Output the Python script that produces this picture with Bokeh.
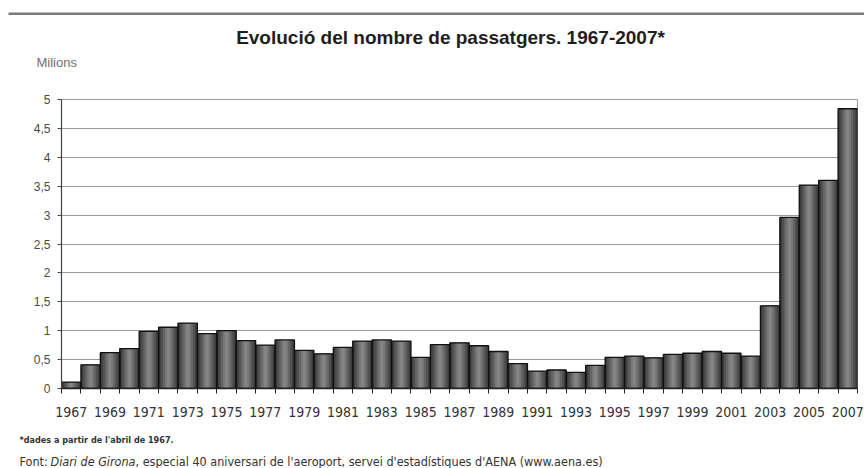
from bokeh.plotting import figure
from bokeh.layouts import column
from bokeh.models import (Range1d, FixedTicker, Label, BoxAnnotation, ColumnDataSource)
from bokeh.embed import file_html
from bokeh.resources import INLINE

# ---------------- data ----------------
years = list(range(1967, 2008))
passengers = [0.11, 0.41, 0.62, 0.69, 0.99, 1.06, 1.13, 0.95, 1.00, 0.83,
              0.75, 0.84, 0.66, 0.60, 0.71, 0.82, 0.84, 0.82, 0.54, 0.76,
              0.79, 0.74, 0.64, 0.43, 0.30, 0.32, 0.28, 0.40, 0.54, 0.56,
              0.53, 0.59, 0.61, 0.64, 0.61, 0.56, 1.43, 2.96, 3.52, 3.60,
              4.84]
x_tick_years = list(range(1967, 2008, 2))
x_tick_labels = [str(y) for y in x_tick_years]
y_ticks = [0, 0.5, 1, 1.5, 2, 2.5, 3, 3.5, 4, 4.5, 5]
y_tick_labels = ["0", "0,5", "1", "1,5", "2", "2,5", "3", "3,5", "4", "4,5", "5"]

title_text = "Evolució del nombre de passatgers. 1967-2007*"
unit_text = "Milions"
note_text = "*dades a partir de l'abril de 1967."
source_a = "Font:"
source_b = "Diari de Girona"
source_c = ", especial 40 aniversari de l'aeroport, servei d'estadístiques d'AENA (www.aena.es)"

# ---------------- layout ----------------
W, H = 864, 468
HEAD_H = 91          # header strip (title, unit)
FOOT_H = 44          # footer strip (notes)
MAIN_H = H - HEAD_H - FOOT_H
FL, FR = 61, 857     # chart frame left / right in px
FRAME_TOP = 8        # inside main figure
FRAME_H = 289

NARROW = "'Liberation Sans Narrow', 'DejaVu Sans Condensed', 'Roboto Condensed', sans-serif"
SANS = "Liberation Sans"


def strip(height):
    f = figure(width=W, height=height, output_backend="svg", toolbar_location=None,
               x_range=Range1d(0, 1), y_range=Range1d(0, 1),
               x_axis_location=None, y_axis_location=None, min_border=0)
    f.grid.visible = False
    f.outline_line_color = None
    f.background_fill_color = "white"
    f.border_fill_color = "white"
    return f


def add_label(f, fh, text, cx, cy, size, font=SANS, color="#333333", style="normal", align="left"):
    # cx, cy: position in the strip's canvas, measured from its top-left corner
    f.add_layout(Label(x=cx, y=fh - cy, x_units="screen", y_units="screen",
                       text=text, text_font=font, text_font_size=size,
                       text_color=color, text_font_style=style,
                       text_align=align, text_baseline="middle"))


# ---------------- header ----------------
head = strip(HEAD_H)
head.add_layout(BoxAnnotation(left=8, right=W, top=HEAD_H - 12, bottom=HEAD_H - 14.5,
                              left_units="screen", right_units="screen",
                              top_units="screen", bottom_units="screen",
                              fill_color="#7a7a7a", fill_alpha=1, line_color=None))
add_label(head, HEAD_H, title_text, 450, 37, "19px", color="#1e1e1e", style="bold", align="center")
add_label(head, HEAD_H, unit_text, 36, 62, "13px", color="#707070")

# ---------------- main chart ----------------
src = ColumnDataSource(data=dict(year=years, val=passengers))

p = figure(width=W, height=MAIN_H, output_backend="svg", toolbar_location=None,
           x_range=Range1d(years[0] - 0.5, years[-1] + 0.5),
           y_range=Range1d(0, 5))
p.min_border_left = FL
p.min_border_right = W - FR
p.min_border_top = FRAME_TOP
p.min_border_bottom = MAIN_H - FRAME_TOP - FRAME_H
p.background_fill_color = "white"
p.border_fill_color = "white"
p.outline_line_color = "#9a9a9a"
p.outline_line_width = 1

# bars with a simple cylinder-like shading
shades = [(1.0, "#3c3c3c"), (0.78, "#505050"), (0.56, "#646464"), (0.34, "#787878"), (0.14, "#858585")]
for w, c in shades:
    p.vbar(x="year", top="val", width=w, source=src, fill_color=c, line_color=None)
p.vbar(x="year", top="val", width=1.0, source=src, fill_color=None,
       line_color="#111111", line_width=1.3)

# grid
p.xgrid.grid_line_color = None
p.ygrid.ticker = FixedTicker(ticks=y_ticks)
p.ygrid.grid_line_color = "#9a9a9a"
p.ygrid.grid_line_width = 1
p.ygrid.level = "underlay"

# x axis
xa = p.xaxis[0]
xa.ticker = FixedTicker(ticks=x_tick_years,
                        minor_ticks=[y - 0.5 for y in years] + [years[-1] + 0.5])
xa.major_label_overrides = {y: l for y, l in zip(x_tick_years, x_tick_labels)}
xa.major_tick_line_color = None
xa.major_tick_out = 0
xa.major_tick_in = 0
xa.minor_tick_line_color = "#222222"
xa.minor_tick_out = 5
xa.minor_tick_in = 0
xa.axis_line_color = "#222222"
xa.axis_line_width = 1.5
xa.major_label_standoff = 13
xa.major_label_text_font = NARROW
xa.major_label_text_font_size = "14px"
xa.major_label_text_color = "#333333"

# y axis
ya = p.yaxis[0]
ya.ticker = FixedTicker(ticks=y_ticks)
ya.major_label_overrides = {t: l for t, l in zip(y_ticks, y_tick_labels)}
ya.minor_tick_line_color = None
ya.major_tick_out = 4
ya.major_tick_in = 0
ya.major_tick_line_color = "#444444"
ya.axis_line_color = "#444444"
ya.axis_line_width = 1.2
ya.major_label_standoff = 7
ya.major_label_text_font = SANS
ya.major_label_text_font_size = "12px"
ya.major_label_text_color = "#4a4a4a"

# ---------------- footer ----------------
foot = strip(FOOT_H)
add_label(foot, FOOT_H, note_text, 19, 15, "9px", font=NARROW, style="bold", color="#333333")
add_label(foot, FOOT_H, source_a, 19, 37, "12.5px", font=NARROW, color="#333333")
add_label(foot, FOOT_H, source_b, 50, 37, "12.5px", font=NARROW, color="#333333", style="italic")
add_label(foot, FOOT_H, source_c, 135, 37, "12.5px", font=NARROW, color="#333333")

# nested columns keep the strips' frames independent from the chart frame
layout = column(column(head), p, column(foot), spacing=0)
open("out.html", "w").write(file_html(layout, INLINE))
